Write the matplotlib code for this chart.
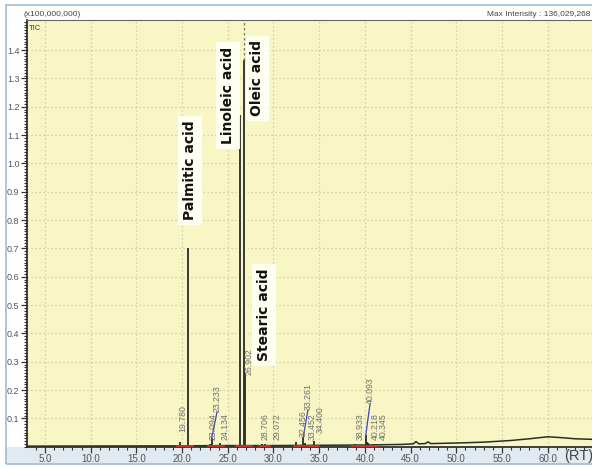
import numpy as np
import matplotlib
matplotlib.use("Agg")
import matplotlib.pyplot as plt
from matplotlib.patches import Rectangle
from matplotlib.ticker import MultipleLocator, FixedLocator

plt.rcParams['font.family'] = ['Liberation Sans', 'DejaVu Sans']

# ---- chromatogram data (retention time in min, TIC intensity in x100,000,000) ----
peak_rt = [19.780, 20.60, 23.094, 23.233, 24.134, 26.35, 26.75, 26.902,
           28.706, 29.072, 32.456, 33.261, 33.452, 34.400, 38.933, 40.093,
           40.218, 40.345]
peak_height = [0.018, 0.700, 0.010, 0.030, 0.012, 1.170, 1.364, 0.260,
               0.010, 0.008, 0.015, 0.035, 0.012, 0.020, 0.010, 0.040,
               0.015, 0.012]

# baseline drift of the TIC trace
base_rt = [3.0, 19.5, 25.0, 30.0, 35.0, 40.0, 44.0, 45.3, 45.6, 45.9, 46.6,
           46.9, 47.2, 50.0, 53.0, 56.0, 58.0, 60.0, 61.5, 63.0, 64.85]
base_level = [0.002, 0.003, 0.004, 0.004, 0.005, 0.006, 0.008, 0.010, 0.018,
              0.010, 0.011, 0.017, 0.011, 0.013, 0.016, 0.022, 0.028, 0.035,
              0.032, 0.028, 0.026]

# integration baselines
integ_start = [19.4, 22.8, 25.9, 28.4, 32.2, 38.6]
integ_end = [21.2, 24.6, 27.6, 29.6, 35.0, 41.4]

# retention-time labels printed on the chromatogram
rt_labels = ["19.780", "23.094", "23.233", "24.134", "26.902", "28.706",
             "29.072", "32.456", "33.261", "33.452", "34.400", "38.933",
             "40.093", "40.218", "40.345"]

# compound names
compounds = ["Palmitic acid", "Linoleic acid", "Oleic acid", "Stearic acid"]

x_ticks = [5, 10, 15, 20, 25, 30, 35, 40, 45, 50, 55, 60]
y_ticks = [0.1, 0.2, 0.3, 0.4, 0.5, 0.6, 0.7, 0.8, 0.9, 1.0, 1.1, 1.2, 1.3, 1.4]

max_intensity = "136,029,268"

# ---- layout ----
W, H = 592, 468
fig = plt.figure(figsize=(W / 100, H / 100), dpi=100)
fig.patch.set_facecolor('white')

# window frame and bottom band (behind the axes)
fig.patches.append(Rectangle((6 / W, (H - 464) / H), (W - 6) / W, (464 - 447) / H,
                             transform=fig.transFigure, facecolor='#e2eaf1',
                             edgecolor='none', zorder=-5))
fig.patches.append(Rectangle((6 / W, (H - 464) / H), (W + 10) / W, (464 - 5) / H,
                             transform=fig.transFigure, facecolor='none',
                             edgecolor='#9dbcd8', lw=1.2, zorder=-4))

ax = fig.add_axes([27 / W, (H - 446.7) / H, (W - 27) / W, (446.7 - 20) / H])
ax.set_facecolor('#f8f6c4')
ax.set_xlim(3.03, 64.85)
ax.set_ylim(0, 1.506)

# grid
for xv in x_ticks:
    ax.axvline(xv, color='#c9c7a6', lw=0.9, ls=(0, (1, 2.2)), zorder=1)
for yv in y_ticks:
    ax.axhline(yv, color='#c9c7a6', lw=0.9, ls=(0, (1, 2.2)), zorder=1)

# trace: baseline and peaks
ax.plot(base_rt, base_level, color='#2b2b2b', lw=1.1, zorder=3)
ax.vlines(peak_rt, 0, peak_height, color='#2b2b2b', lw=1.3, zorder=3)

# dashed marker above the base peak
i_max = int(np.argmax(peak_height))
ax.vlines(peak_rt[i_max], peak_height[i_max], 1.506, color='#777777',
          lw=0.9, ls=(0, (2, 2)), zorder=3)

# integration baselines
for xs, xe in zip(integ_start, integ_end):
    ax.plot([xs, xe], [0.004, 0.004], color='#e0302a', lw=1.2, zorder=4)

# retention-time labels: (x position, bottom of text)
label_pos = [(20.10, 0.052), (23.38, 0.024), (23.82, 0.122), (24.69, 0.024),
             (27.32, 0.253), (29.07, 0.024), (30.38, 0.024), (33.23, 0.034),
             (33.77, 0.130), (34.21, 0.024), (35.09, 0.048), (39.50, 0.024),
             (40.56, 0.150), (41.15, 0.024), (42.05, 0.024)]
for txt, (lx, ly) in zip(rt_labels, label_pos):
    ax.text(lx, ly, txt, rotation=90, ha='center', va='bottom', fontsize=6.3,
            color='#6e6e6e', zorder=5)
    rt = float(txt)
    k = int(np.argmin([abs(r - rt) for r in peak_rt]))
    if ly - peak_height[k] > 0.05 and ly < 0.2:
        ax.plot([peak_rt[k], lx], [peak_height[k], ly], color='#3a45c8',
                lw=0.9, zorder=4)

# compound names in boxes
name_pos = [(20.85, 0.975), (25.05, 1.24), (28.25, 1.30), (29.0, 0.465)]
for name, (nx, ny) in zip(compounds, name_pos):
    ax.text(nx, ny, name, rotation=90, ha='center', va='center', fontsize=10,
            fontweight='bold', family='DejaVu Sans', color='#111111', zorder=6,
            bbox=dict(boxstyle='square,pad=0.35', facecolor='#fffff6',
                      edgecolor='none', alpha=0.92))

# axes styling
ax.spines['right'].set_visible(False)
ax.spines['top'].set_color('#666666')
ax.spines['left'].set_color('#222222')
ax.spines['bottom'].set_color('#222222')
ax.spines['left'].set_linewidth(1.2)
ax.spines['bottom'].set_linewidth(1.2)

ax.xaxis.set_major_locator(FixedLocator(x_ticks))
ax.xaxis.set_minor_locator(MultipleLocator(1.0))
ax.yaxis.set_major_locator(FixedLocator(y_ticks))
ax.yaxis.set_minor_locator(MultipleLocator(0.01))
ax.set_xticklabels([f"{v:.1f}" for v in x_ticks])
ax.set_yticklabels([f"{v:.1f}" for v in y_ticks])
ax.tick_params(axis='both', which='major', labelsize=6.5, labelcolor='#555555',
               color='#333333', length=4, width=0.9, pad=1.5)
ax.tick_params(axis='x', which='major', labelsize=7)
ax.tick_params(axis='both', which='minor', color='#333333', length=2.2, width=0.8)

# header texts
fig.text(23 / W, (H - 15) / H, "(x100,000,000)", fontsize=6, color='#444444',
         va='center', ha='left')
fig.text(29 / W, (H - 28) / H, "TIC", fontsize=5.5, color='#444444',
         va='center', ha='left')
fig.text(590 / W, (H - 15) / H, "Max Intensity : " + max_intensity, fontsize=6,
         color='#444444', va='center', ha='right')
fig.text(564 / W, (H - 456) / H, "(RT)", fontsize=10.5, color='#444444',
         va='center', ha='left')

fig.savefig("out.png", dpi=100, facecolor=fig.get_facecolor())
